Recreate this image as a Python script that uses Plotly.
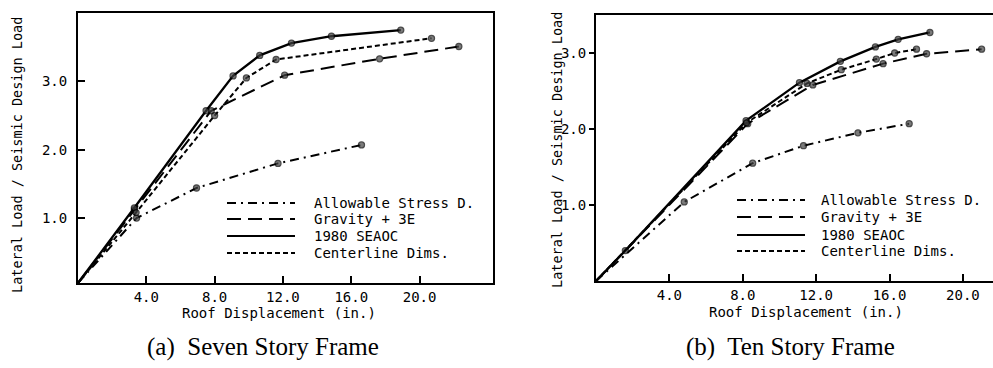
import plotly.graph_objects as go

W, H = 993, 368

# ---------------- data ----------------
series_names = ["Allowable Stress D.", "Gravity + 3E", "1980 SEAOC", "Centerline Dims."]

# (a) Seven Story Frame
a_asd_x = [0, 3.43, 6.94, 11.71, 16.6]
a_asd_y = [0.05, 1.00, 1.44, 1.80, 2.07]
a_grav_x = [0, 3.3, 7.8, 12.1, 17.66, 22.3]
a_grav_y = [0.05, 1.12, 2.57, 3.09, 3.33, 3.51]
a_seaoc_x = [0, 3.3, 7.5, 9.08, 10.64, 12.5, 14.84, 18.9]
a_seaoc_y = [0.05, 1.15, 2.57, 3.08, 3.38, 3.56, 3.66, 3.75]
a_cent_x = [0, 3.4, 8.0, 9.86, 11.6, 20.7]
a_cent_y = [0.05, 1.08, 2.50, 3.05, 3.32, 3.63]

# (b) Ten Story Frame
b_asd_x = [0, 4.81, 8.54, 11.31, 14.28, 17.07]
b_asd_y = [0, 1.04, 1.55, 1.78, 1.95, 2.07]
b_grav_x = [0, 8.27, 11.82, 15.65, 18.02, 21.02]
b_grav_y = [0, 2.07, 2.58, 2.86, 2.99, 3.05]
b_seaoc_x = [0, 1.6, 8.18, 11.09, 13.32, 15.23, 16.47, 18.2]
b_seaoc_y = [0, 0.40, 2.11, 2.61, 2.89, 3.08, 3.18, 3.27]
b_cent_x = [0, 8.2, 11.5, 13.37, 15.28, 16.28, 17.47]
b_cent_y = [0, 2.08, 2.60, 2.78, 2.92, 3.00, 3.05]

x_ticks = [4.0, 8.0, 12.0, 16.0, 20.0]
y_ticks = [1.0, 2.0, 3.0]
x_title = "Roof Displacement (in.)"
y_title = "Lateral Load / Seismic Design Load"
captions = ["(a)  Seven Story Frame", "(b)  Ten Story Frame"]

# ---------------- styles ----------------
dashes = ["9px,5px,2px,5px", "14px,7px", "solid", "5px,3px"]
MONO = "DejaVu Sans Mono"
SERIF = "Liberation Serif"


def px(x):
    return x / W


def py(y):
    return 1 - y / H


fig = go.Figure()

panels = [
    ("x", "y", [(a_asd_x, a_asd_y), (a_grav_x, a_grav_y), (a_seaoc_x, a_seaoc_y), (a_cent_x, a_cent_y)]),
    ("x2", "y2", [(b_asd_x, b_asd_y), (b_grav_x, b_grav_y), (b_seaoc_x, b_seaoc_y), (b_cent_x, b_cent_y)]),
]
for xa, ya, data in panels:
    for i, (xs, ys) in enumerate(data):
        fig.add_trace(go.Scatter(
            x=xs, y=ys, xaxis=xa, yaxis=ya, mode="lines+markers",
            name=series_names[i], showlegend=False,
            line=dict(color="#000", width=2.3 if i == 2 else 2, dash=dashes[i]),
            marker=dict(size=[0] + [6] * (len(xs) - 1), color="#444",
                        line=dict(color="#000", width=1.3)),
        ))

axis_common = dict(showgrid=False, zeroline=False, linecolor="#000", linewidth=2,
                   tickcolor="#000", tickwidth=1.5,
                   tickfont=dict(family=MONO, size=14, color="#000"))

fig.update_layout(
    width=W, height=H, margin=dict(l=0, r=0, t=0, b=0),
    paper_bgcolor="white", plot_bgcolor="white",
    xaxis=dict(domain=[px(78), px(493)], range=[0, 24.3], tickvals=x_ticks,
               tickformat=".1f", ticks="inside", ticklen=7, mirror=True,
               showline=True, anchor="y", **axis_common),
    yaxis=dict(domain=[py(283), py(13)], range=[0.05, 4.0], tickvals=y_ticks,
               tickformat=".1f", ticks="inside", ticklen=7, mirror=True,
               showline=True, anchor="x", ticklabelstandoff=6, **axis_common),
    xaxis2=dict(domain=[px(596), 1.0], range=[0, 21.64], tickvals=x_ticks,
                tickformat=".1f", ticks="inside", ticklen=7, mirror=True,
                showline=True, anchor="y2", **axis_common),
    yaxis2=dict(domain=[py(281), py(15)], range=[0, 3.5], tickvals=y_ticks,
                tickformat=".1f", ticks="outside", ticklen=5, mirror=False,
                showline=True, anchor="x2", ticklabelstandoff=0, **axis_common),
)

ann = []
shapes = []
# axis titles
for cx, cy in [(279, 313), (806, 312)]:
    ann.append(dict(x=px(cx), y=py(cy), xref="paper", yref="paper", text=x_title,
                    showarrow=False, font=dict(family=MONO, size=14, color="#000"),
                    xanchor="center", yanchor="middle"))
for cx, cy in [(17, 155), (557, 150)]:
    ann.append(dict(x=px(cx), y=py(cy), xref="paper", yref="paper", text=y_title,
                    showarrow=False, textangle=-90,
                    font=dict(family=MONO, size=13.5, color="#000"),
                    xanchor="center", yanchor="middle"))
# captions
for (cx, cy), cap in zip([(263, 347), (790, 347)], captions):
    ann.append(dict(x=px(cx), y=py(cy), xref="paper", yref="paper", text=cap.replace("  ", "&nbsp; "),
                    showarrow=False, font=dict(family=SERIF, size=25, color="#000"),
                    xanchor="center", yanchor="middle"))

# legends (drawn manually)
legends = [
    (227, 295, 312, [203, 219, 236, 253]),
    (737, 805, 819, [200, 217, 235, 251]),
]
for x0, x1, tx, rows in legends:
    for i, ry in enumerate(rows):
        shapes.append(dict(type="line", xref="paper", yref="paper",
                           x0=px(x0), x1=px(x1), y0=py(ry), y1=py(ry),
                           line=dict(color="#000", width=2, dash=dashes[i])))
        ann.append(dict(x=px(tx), y=py(ry), xref="paper", yref="paper",
                        text=series_names[i], showarrow=False,
                        font=dict(family=MONO, size=14, color="#000"),
                        xanchor="left", yanchor="middle"))

fig.update_layout(annotations=ann, shapes=shapes)
fig.write_html("out.html")
